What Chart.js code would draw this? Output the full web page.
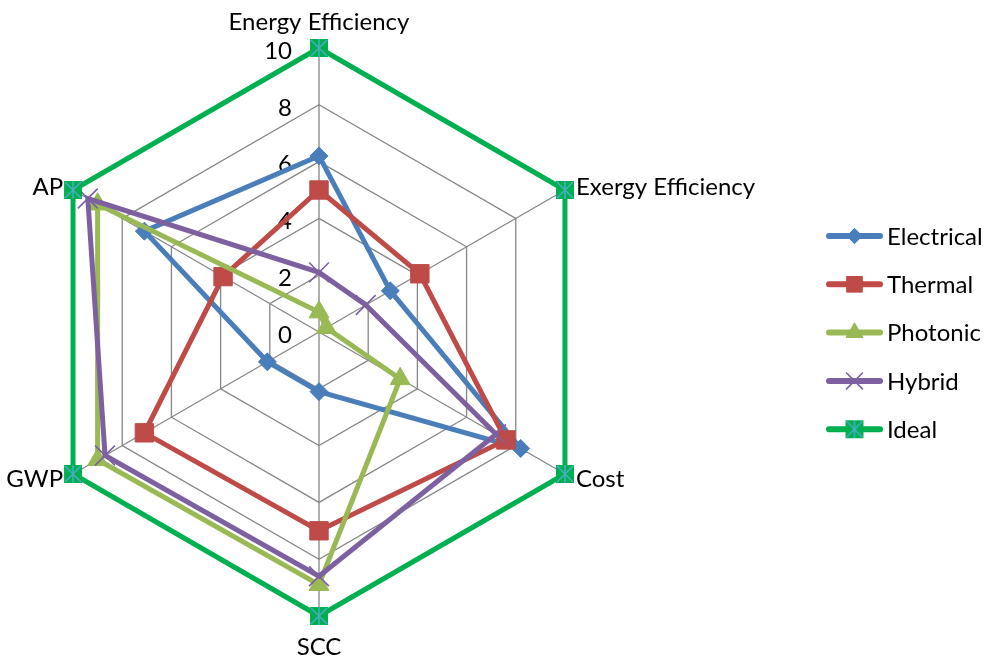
<!DOCTYPE html>
<html>
<head>
<meta charset="utf-8">
<title>Radar comparison</title>
<script src="https://cdn.jsdelivr.net/npm/chart.js@4.4.1/dist/chart.umd.min.js"></script>
<style>
  html, body { margin: 0; padding: 0; background: #fff; }
  #wrap { width: 988px; height: 656px; position: relative; }
</style>
</head>
<body>
<div id="wrap"><canvas id="radarChart"></canvas></div>
<script>
const axisLabels = ["Energy Efficiency", "Exergy Efficiency", "Cost", "SCC", "GWP", "AP"];
const electrical = [6.2, 2.9, 8.2, 2.1, 2.1, 7.1];
const thermal    = [5.0, 4.1, 7.6, 7.0, 7.1, 3.9];
const photonic   = [0.7, 0.3, 3.3, 8.9, 9.0, 9.0];
const hybrid     = [2.1, 1.9, 7.2, 8.6, 8.7, 9.4];
const ideal      = [10, 10, 10, 10, 10, 10];
const scaleMin = 0, scaleMax = 10, scaleStep = 2;

const FONT = "Lato, 'Open Sans', sans-serif";
const FONT_SIZE = 24;

// Ideal marker: green square with a light blue star over it
const idealMarker = (() => {
  const c = document.createElement("canvas");
  c.width = 20; c.height = 20;
  const g = c.getContext("2d");
  g.fillStyle = "#00b050";
  g.fillRect(1, 1, 18, 18);
  g.strokeStyle = "#4bacc6";
  g.lineWidth = 1.5;
  g.beginPath();
  g.moveTo(10, 1); g.lineTo(10, 19);
  g.moveTo(2, 2); g.lineTo(18, 18);
  g.moveTo(18, 2); g.lineTo(2, 18);
  g.stroke();
  return c;
})();

const makeSet = (label, data, color, style, radius, order, pbw) => ({
  label, data, order,
  borderColor: color,
  backgroundColor: color,
  borderWidth: 5,
  fill: false,
  pointStyle: style,
  pointRadius: radius,
  pointHoverRadius: radius,
  pointBackgroundColor: color,
  pointBorderColor: color,
  pointBorderWidth: pbw
});

// tick numbers + category names, drawn from the scale geometry
const axisTextPlugin = {
  id: "axisText",
  beforeDatasetsDraw(chart) {
    const r = chart.scales.r;
    const ctx = chart.ctx;
    ctx.save();
    ctx.font = FONT_SIZE + "px " + FONT;
    ctx.fillStyle = "#000";
    ctx.textBaseline = "middle";

    ctx.textAlign = "right";
    r.ticks.forEach(t => {
      const d = r.getDistanceFromCenterForValue(t.value);
      ctx.fillText(t.label != null ? t.label : String(t.value), r.xCenter - 27, r.yCenter - d + 3);
    });

    axisLabels.forEach((name, i) => {
      const p = r.getPointPosition(i, r.drawingArea);
      const dx = p.x - r.xCenter;
      if (Math.abs(dx) < 1) {
        ctx.textAlign = "center";
        ctx.fillText(name, p.x, p.y + (p.y < r.yCenter ? -26 : 31));
      } else {
        ctx.textAlign = dx > 0 ? "left" : "right";
        const dy = 1.5 + (p.y < r.yCenter ? -4 : 4);
        ctx.fillText(name, p.x + (dx > 0 ? 11 : -10), p.y + dy);
      }
    });
    ctx.restore();
  }
};

// legend on the right: short line with the series marker in the middle
const sideLegendPlugin = {
  id: "sideLegend",
  afterDraw(chart) {
    const ctx = chart.ctx;
    ctx.save();
    chart.data.datasets.forEach((ds, i) => {
      const y = 236 + i * 48.3;
      ctx.strokeStyle = ds.borderColor;
      ctx.lineWidth = 6;
      ctx.lineCap = "round";
      ctx.beginPath();
      ctx.moveTo(829, y);
      ctx.lineTo(880, y);
      ctx.stroke();

      ctx.lineCap = "butt";
      ctx.fillStyle = ds.pointBackgroundColor;
      ctx.strokeStyle = ds.pointBorderColor;
      ctx.lineWidth = ds.pointBorderWidth;
      Chart.helpers.drawPoint(ctx, {
        pointStyle: ds.pointStyle,
        radius: ds.pointRadius * 0.85,
        rotation: 0,
        borderWidth: ds.pointBorderWidth
      }, 854.5, y);

      ctx.font = FONT_SIZE + "px " + FONT;
      ctx.fillStyle = "#000";
      ctx.textAlign = "left";
      ctx.textBaseline = "middle";
      ctx.fillText(ds.label, 887, y + 1);
    });
    ctx.restore();
  }
};

const ctx = document.getElementById("radarChart");
new Chart(ctx, {
  type: "radar",
  data: {
    labels: axisLabels,
    datasets: [
      makeSet("Electrical", electrical, "#4a7ebb", "rectRot", 9, 5, 1),
      makeSet("Thermal", thermal, "#be4b48", "rect", 13, 4, 1),
      makeSet("Photonic", photonic, "#98b954", "triangle", 11.5, 3, 1),
      makeSet("Hybrid", hybrid, "#7d60a0", "crossRot", 14, 2, 1.6),
      makeSet("Ideal", ideal, "#00b050", idealMarker, 10, 1, 0)
    ]
  },
  options: {
    responsive: true,
    maintainAspectRatio: false,
    animation: false,
    events: [],
    layout: { padding: { left: 35, top: 48, right: 384, bottom: 39 } },
    elements: { line: { tension: 0 } },
    plugins: {
      legend: { display: false },
      tooltip: { enabled: false }
    },
    scales: {
      r: {
        min: scaleMin,
        max: scaleMax,
        ticks: { stepSize: scaleStep, display: false },
        grid: { color: "#868686", lineWidth: 1.3 },
        angleLines: { color: "#868686", lineWidth: 1.3 },
        pointLabels: { display: false }
      }
    }
  },
  plugins: [axisTextPlugin, sideLegendPlugin]
});
</script>
</body>
</html>
